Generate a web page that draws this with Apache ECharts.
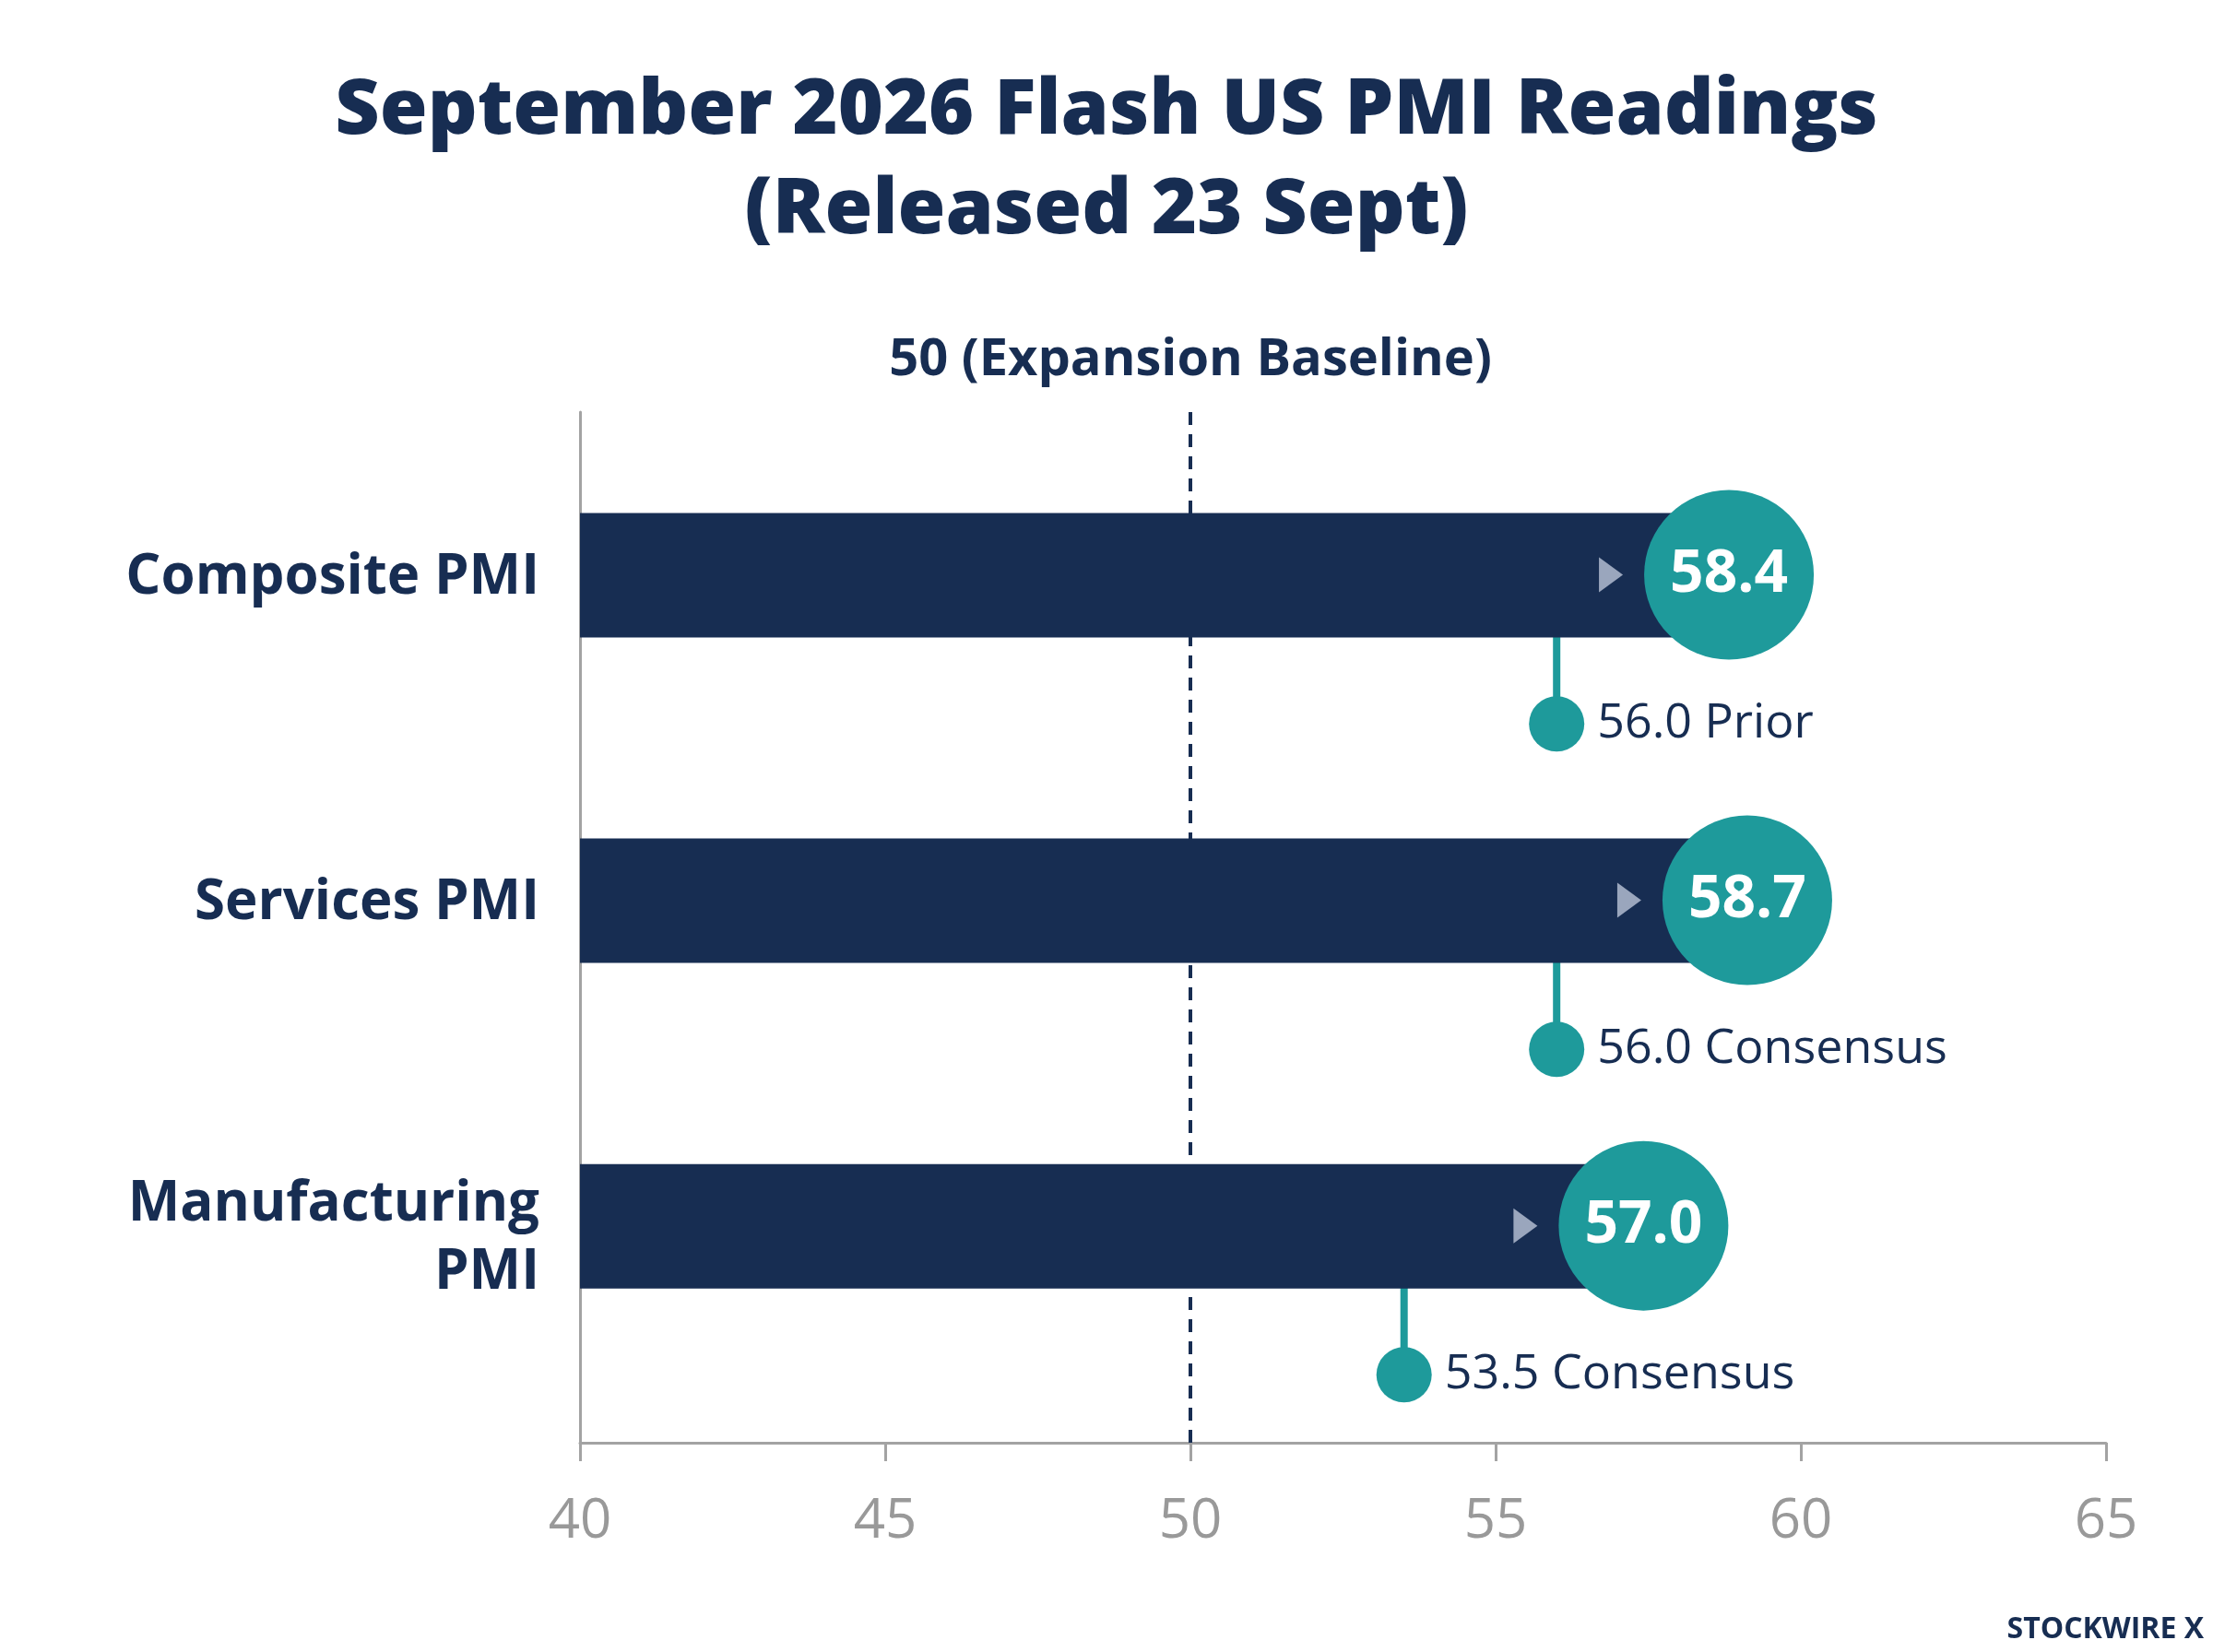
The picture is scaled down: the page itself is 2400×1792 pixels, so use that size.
<!DOCTYPE html>
<html>
<head>
<meta charset="utf-8">
<script src="https://cdn.jsdelivr.net/npm/echarts@6/dist/echarts.min.js"></script>
<style>html,body{margin:0;padding:0;background:#fff}#chart{width:2400px;height:1792px}</style>
</head>
<body>
<div id="chart"></div>
<script>
var categories = ['Composite PMI', 'Services PMI', 'Manufacturing\nPMI'];
var rowPos = [3, 2, 1];
var actual = [58.4, 58.7, 57.0];
var refValues = [56.0, 56.0, 53.5];
var refNames = ['Prior', 'Consensus', 'Consensus'];
var xTicks = [40, 45, 50, 55, 60, 65];

var navy = '#172d52';
var teal = '#1e9a9b';
var font = 'Open Sans';

function initChart() {
    var chart = echarts.init(document.getElementById('chart'));
    var bars = actual.map(function (v, i) { return [v, rowPos[i]]; });
    var dots = refValues.map(function (v, i) { return { value: [v, rowPos[i] - 0.458], name: v.toFixed(1) + ' ' + refNames[i] }; });
    var names = categories.map(function (c, i) { return { value: [40, rowPos[i] - (i === 2 ? 0.04 : 0.01)], name: c }; });
    var option = {
        backgroundColor: '#fff',
        title: {
            text: 'September 2026 Flash US PMI Readings\n(Released 23 Sept)',
            left: 'center', top: 62,
            textStyle: { fontFamily: font, fontWeight: 800, fontSize: 84, color: navy, lineHeight: 108 }
        },
        graphic: [{
            type: 'text', right: 10, bottom: 8,
            style: { text: 'STOCKWIRE X', font: 'bold 32px "Open Sans"', fill: navy }
        }],
        grid: { left: 629, right: 116, top: 447, bottom: 227 },
        xAxis: {
            type: 'value', min: 40, max: 65, interval: 5,
            axisLine: { show: true, lineStyle: { color: '#a3a3a3', width: 3 } },
            axisTick: { show: true, length: 20, lineStyle: { color: '#a3a3a3', width: 3 } },
            axisLabel: { margin: 56, fontFamily: font, fontSize: 60, color: '#999' },
            splitLine: { show: false }
        },
        yAxis: {
            type: 'value', min: 1 / 3, max: 3.5,
            axisLine: { show: true, lineStyle: { color: '#a3a3a3', width: 3 } },
            axisTick: { show: false }, axisLabel: { show: false }, splitLine: { show: false }
        },
        series: [
            {
                type: 'custom', z: 1,
                renderItem: function (params, api) {
                    var a = api.coord([api.value(0), api.value(1)]);
                    var b = api.coord([api.value(0), api.value(1) - 0.458]);
                    return { type: 'line', shape: { x1: a[0], y1: a[1], x2: b[0], y2: b[1] },
                        style: { stroke: teal, lineWidth: 8 } };
                },
                data: refValues.map(function (v, i) { return [v, rowPos[i]]; })
            },
            {
                type: 'custom', z: 2, data: bars,
                renderItem: function (params, api) {
                    var a = api.coord([40, api.value(1)]);
                    var b = api.coord([api.value(0), api.value(1)]);
                    return { type: 'rect', shape: { x: a[0], y: a[1] - 67, width: b[0] - a[0], height: 135 },
                        style: { fill: navy } };
                },
                markLine: {
                    silent: true, symbol: 'none',
                    lineStyle: { color: navy, type: [14, 10], width: 4 },
                    label: { show: true, position: 'end', formatter: '50 (Expansion Baseline)', distance: 28,
                        fontFamily: font, fontWeight: 'bold', fontSize: 56, color: navy },
                    data: [{ xAxis: 50 }]
                }
            },
            {
                type: 'scatter', z: 3, symbol: 'triangle', symbolRotate: -90, symbolSize: [38, 26],
                symbolOffset: [-100, 0], itemStyle: { color: '#9aa6bd', opacity: 1 }, data: bars
            },
            {
                type: 'scatter', z: 4, symbolSize: 184, symbolOffset: [28, 0], data: bars,
                itemStyle: { color: teal, opacity: 1 },
                label: { show: true, position: 'inside', formatter: function (p) { return p.value[0].toFixed(1); },
                    fontFamily: font, fontWeight: 'bold', fontSize: 64, color: '#fff' }
            },
            {
                type: 'scatter', z: 4, symbolSize: 60, data: dots,
                itemStyle: { color: teal, opacity: 1 },
                label: { show: true, position: 'right', distance: 14, formatter: '{b}',
                    fontFamily: font, fontSize: 52, color: navy }
            },
            {
                type: 'scatter', symbolSize: 0, data: names, itemStyle: { opacity: 1 },
                label: { show: true, position: 'left', distance: 44, formatter: '{b}', align: 'right',
                    fontFamily: font, fontWeight: 'bold', fontSize: 60, color: navy, lineHeight: 74 }
            }
        ]
    };
    chart.setOption(option);
}
initChart();
</script>
</body>
</html>
